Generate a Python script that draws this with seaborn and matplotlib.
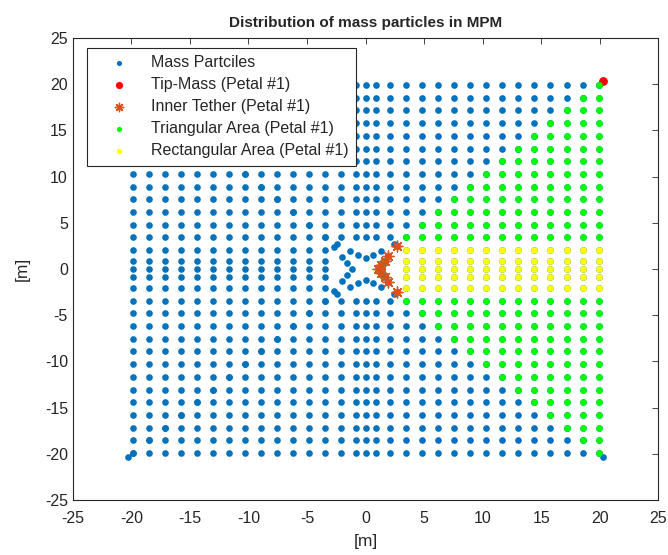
import pandas as pd
import seaborn as sns
import matplotlib.pyplot as plt

# petal grid: distance from the hub along the petal axis, and across it
radial_pos = [19.9, 18.53, 17.16, 15.78, 14.41, 13.04, 11.67, 10.3, 8.92, 7.55, 6.18, 4.81, 3.44]
trans_pos = [-19.9, -18.53, -17.16, -15.78, -14.41, -13.04, -11.67, -10.3, -8.92, -7.55,
             -6.18, -4.81, -3.44, -2.06, -0.85, 0.0, 0.85, 2.06, 3.44, 4.81, 6.18, 7.55,
             8.92, 10.3, 11.67, 13.04, 14.41, 15.78, 17.16, 18.53, 19.9]
rect_half_width = 2.06

# tip masses at the corners (first one belongs to petal #1)
tip_x = [20.3, -20.3, -20.3, 20.3]
tip_y = [20.3, 20.3, -20.3, -20.3]

# inner tether of petal #1
tether1_x = [2.7, 1.95, 1.65, 1.35, 1.05, 1.35, 1.65, 1.95, 2.7]
tether1_y = [2.45, 1.4, 0.88, 0.42, 0.0, -0.42, -0.88, -1.4, -2.45]

# inner tethers of the other petals
tether_top_x = [-2.4, -1.3, -0.65, 0.0, 0.65, 1.3, 2.4]
tether_top_y = [2.7, 1.95, 1.55, 1.17, 1.55, 1.95, 2.7]
tether_left_x = [-2.7, -2.03, -1.6, -1.17, -1.6, -2.03, -2.7]
tether_left_y = [2.4, 1.27, 0.62, 0.0, -0.62, -1.27, -2.4]
tether_bot_x = [-2.4, -1.3, -0.65, 0.0, 0.65, 1.3, 2.4]
tether_bot_y = [-2.7, -1.95, -1.55, -1.17, -1.55, -1.95, -2.7]

rows = []
for r in radial_pos:
    for t in trans_pos:
        if abs(t) > r + 0.01:
            continue
        area = 'rect' if abs(t) <= rect_half_width + 0.01 else 'tri'
        rows.append((r, t, 1, area))
        rows.append((t, r, 2, area))
        rows.append((-r, t, 3, area))
        rows.append((t, -r, 4, area))
grid = pd.DataFrame(rows, columns=['x', 'y', 'petal', 'area'])

all_x = list(grid['x']) + tip_x + tether1_x + tether_top_x + tether_left_x + tether_bot_x
all_y = list(grid['y']) + tip_y + tether1_y + tether_top_y + tether_left_y + tether_bot_y
particles = pd.DataFrame({'x': all_x, 'y': all_y})
petal1 = grid[grid['petal'] == 1]

sns.set_style('white')
plt.rcParams['font.family'] = ['Liberation Sans', 'DejaVu Sans']
plt.rcParams['font.size'] = 10
plt.rcParams['axes.unicode_minus'] = False

fig = plt.figure(figsize=(6.68, 5.55), dpi=100)
ax = fig.add_axes([0.109, 0.099, 0.8765, 0.8325])

dot = 23
sns.scatterplot(data=particles, x='x', y='y', color='#0072BD', s=dot, linewidth=0,
                label='Mass Partciles', ax=ax)
sns.scatterplot(x=tip_x[:1], y=tip_y[:1], color='#FF0000', s=40, linewidth=0,
                label='Tip-Mass (Petal #1)', ax=ax)
sns.scatterplot(x=tether1_x, y=tether1_y, color='#D95319', marker=(8, 2, 0), s=60,
                edgecolor='#D95319', linewidth=1.0, label='Inner Tether (Petal #1)', ax=ax)
tri = petal1[petal1['area'] == 'tri']
rect = petal1[petal1['area'] == 'rect']
sns.scatterplot(data=tri, x='x', y='y', color='#00FF00', s=dot, linewidth=0,
                label='Triangular Area (Petal #1)', ax=ax)
sns.scatterplot(data=rect, x='x', y='y', color='#FFFF00', s=dot, linewidth=0,
                label='Rectangular Area (Petal #1)', ax=ax)

ax.set_xlim(-25, 25)
ax.set_ylim(-25, 25)
ax.set_xticks(range(-25, 26, 5))
ax.set_yticks(range(-25, 26, 5))
ax.tick_params(direction='in', top=True, right=True, length=4, width=0.6,
               colors='#262626', labelsize=11.5)
ax.tick_params(axis='x', pad=8)
for sp in ax.spines.values():
    sp.set_visible(True)
    sp.set_color('#262626')
    sp.set_linewidth(0.8)

ax.set_title('Distribution of mass particles in MPM', fontsize=11, fontweight='bold', pad=8)
ax.set_xlabel('[m]', fontsize=12.5, color='#262626', labelpad=6)
ax.set_ylabel('[m]', fontsize=12.5, color='#262626', labelpad=11)

leg = ax.legend(loc='upper left', bbox_to_anchor=(0.025, 0.978), borderaxespad=0,
                frameon=True, fancybox=False, framealpha=1, edgecolor='#262626',
                handlelength=3.1, handletextpad=0.41, borderpad=0.45, labelspacing=0.44,
                fontsize=11.5)
leg.get_frame().set_linewidth(0.8)
for h, sz in zip(leg.legend_handles, [14, 27, 36, 14, 14]):
    h.set_sizes([sz])

fig.savefig('out.png', dpi=100)
